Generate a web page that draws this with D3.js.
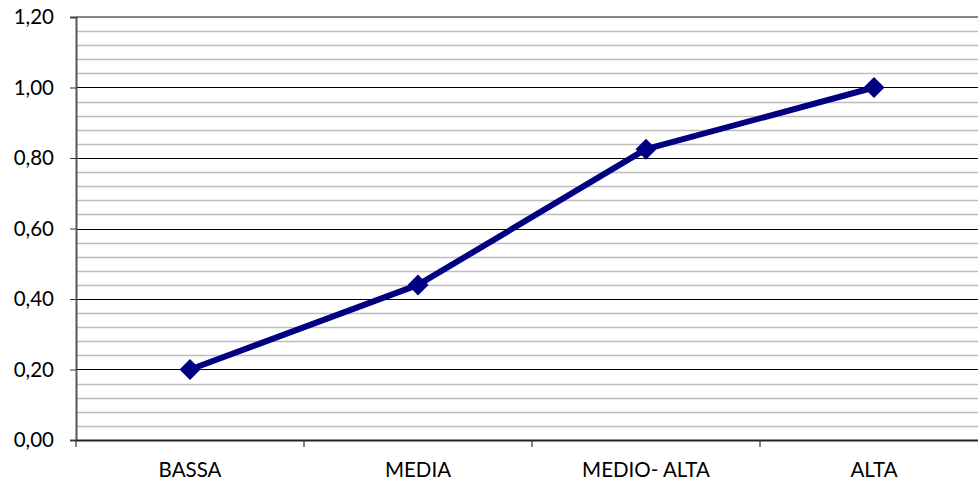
<!DOCTYPE html>
<html>
<head>
<meta charset="utf-8">
<script src="https://cdn.jsdelivr.net/npm/d3@7"></script>
<style>
  html, body { margin: 0; padding: 0; background: #fff; }
  svg { display: block; }
  text { font-family: Lato, "Open Sans", sans-serif; fill: #000; }
</style>
</head>
<body>
<svg id="chart" width="978" height="481"></svg>
<script>
const categories = ["BASSA", "MEDIA", "MEDIO- ALTA", "ALTA"];
const values = [0.20, 0.44, 0.825, 1.00];
const majorTicks = [0, 0.2, 0.4, 0.6, 0.8, 1.0, 1.2];
const minorTicks = d3.range(0, 31).map(i => i * 0.04);

const svg = d3.select("#chart");
const plotLeft = 76, plotRight = 988, plotTop = 17, plotBottom = 440;
const labelFont = 20.5;

const x = d3.scaleBand().domain(categories).range([plotLeft, plotRight]).padding(0);
const y = d3.scaleLinear().domain([0, 1.2]).range([plotBottom, plotTop]);

const fmt = v => v.toFixed(2).replace(".", ",");

// minor gridlines
svg.append("g").selectAll("line")
  .data(minorTicks.filter(v => Math.abs(v / 0.2 - Math.round(v / 0.2)) > 1e-6))
  .join("line")
  .attr("x1", plotLeft).attr("x2", plotRight)
  .attr("y1", d => Math.round(y(d)) + 0.5).attr("y2", d => Math.round(y(d)) + 0.5)
  .attr("stroke", "#bdbdbd").attr("stroke-width", 1.5);

// major gridlines
svg.append("g").selectAll("line")
  .data(majorTicks.filter(v => v > 0 && v < 1.2))
  .join("line")
  .attr("x1", plotLeft).attr("x2", plotRight)
  .attr("y1", d => Math.round(y(d)) + 0.5).attr("y2", d => Math.round(y(d)) + 0.5)
  .attr("stroke", "#000").attr("stroke-width", 1);

// top border
svg.append("line")
  .attr("x1", plotLeft).attr("x2", plotRight)
  .attr("y1", y(1.2)).attr("y2", y(1.2))
  .attr("stroke", "#868686").attr("stroke-width", 2);

// y axis
const yAxis = d3.axisLeft(y).tickValues(majorTicks).tickFormat(fmt).tickSize(6).tickPadding(16);
const gy = svg.append("g").attr("transform", `translate(${plotLeft},0)`).call(yAxis);
gy.select(".domain").attr("stroke", "#555").attr("stroke-width", 2);
gy.selectAll(".tick line").attr("stroke", "#333");
gy.selectAll(".tick text").attr("font-size", labelFont).style("font-family", "Lato, 'Open Sans', sans-serif");

// x axis
const xAxis = d3.axisBottom(x).tickSize(0).tickPadding(22);
const gx = svg.append("g").attr("transform", `translate(0,${plotBottom})`).call(xAxis);
gx.select(".domain").attr("stroke", "#222").attr("stroke-width", 2);
gx.selectAll(".tick text").attr("font-size", labelFont).style("font-family", "Lato, 'Open Sans', sans-serif");

// category boundary ticks
svg.append("g").selectAll("line")
  .data(categories.concat([null]))
  .join("line")
  .attr("x1", (d, i) => plotLeft + i * x.bandwidth()).attr("x2", (d, i) => plotLeft + i * x.bandwidth())
  .attr("y1", plotBottom).attr("y2", plotBottom + 7)
  .attr("stroke", "#333").attr("stroke-width", 1.2);

// series line
const line = d3.line()
  .x((d, i) => x(categories[i]) + x.bandwidth() / 2)
  .y(d => y(d));
svg.append("path")
  .datum(values)
  .attr("d", line)
  .attr("fill", "none")
  .attr("stroke", "#000080")
  .attr("stroke-width", 6)
  .attr("stroke-linejoin", "round");

// diamond markers
const diamond = d3.symbol().type(d3.symbolDiamond2).size(280);
svg.append("g").selectAll("path")
  .data(values)
  .join("path")
  .attr("d", diamond)
  .attr("transform", (d, i) => `translate(${x(categories[i]) + x.bandwidth() / 2},${y(d)})`)
  .attr("fill", "#000080");
</script>
</body>
</html>
